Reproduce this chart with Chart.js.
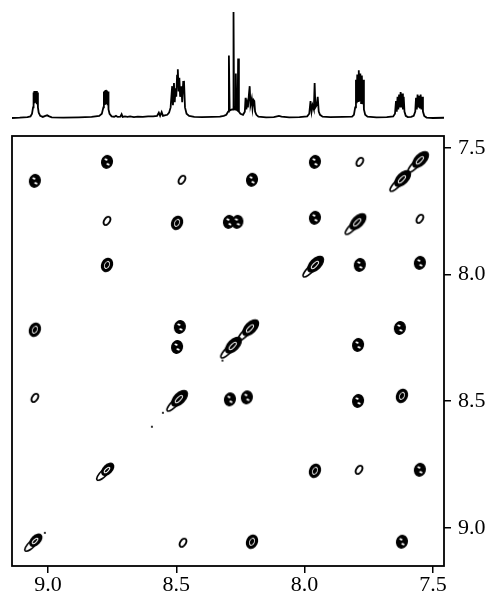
<!DOCTYPE html>
<html>
<head>
<meta charset="utf-8">
<script src="https://cdn.jsdelivr.net/npm/chart.js@4.4.1/dist/chart.umd.min.js"></script>
<style>
  body { margin: 0; background: #fff; }
  #wrap { position: relative; width: 494px; height: 593px; }
  canvas { position: absolute; left: 0; }
</style>
</head>
<body>
<div id="wrap">
  <canvas id="spec" width="494" height="125" style="top:0"></canvas>
  <canvas id="cosy" width="494" height="468" style="top:125px"></canvas>
</div>
<script>
// 1D proton trace on top (ppm, relative intensity)
const specPpm = [
  9.140, 9.110, 9.080, 9.068, 9.062, 9.058, 9.057, 9.055, 9.053, 9.051, 9.049, 9.047, 9.045, 9.043, 9.041, 9.039, 9.036, 9.030, 9.020, 9.010, 9.003, 8.995, 8.985,
  8.940, 8.880, 8.830, 8.800, 8.790, 8.784, 8.782, 8.780, 8.778, 8.776, 8.774, 8.772, 8.770, 8.768, 8.766, 8.764, 8.760, 8.752,
  8.742, 8.735, 8.728, 8.718, 8.713, 8.709, 8.700, 8.690, 8.680, 8.665, 8.650, 8.630, 8.610, 8.590, 8.575, 8.568, 8.563, 8.557, 8.552, 8.545,
  8.535, 8.528, 8.522, 8.516, 8.513, 8.509, 8.506, 8.503, 8.500, 8.497, 8.494, 8.491, 8.488, 8.485, 8.480, 8.477, 8.473, 8.470, 8.466, 8.460, 8.450,
  8.430, 8.400, 8.360, 8.330, 8.315, 8.305, 8.298, 8.295, 8.292, 8.283, 8.278, 8.277, 8.275, 8.270, 8.268, 8.266, 8.261, 8.259, 8.256, 8.250,
  8.240, 8.233, 8.230, 8.227, 8.224, 8.221, 8.217, 8.214, 8.211, 8.206, 8.203, 8.199, 8.196, 8.193, 8.188, 8.180,
  8.150, 8.120, 8.100, 8.090, 8.060, 8.020, 7.990, 7.982, 7.977, 7.973, 7.969, 7.964, 7.961, 7.958, 7.953, 7.949, 7.945, 7.940, 7.930,
  7.900, 7.850, 7.815, 7.808, 7.803, 7.800, 7.797, 7.795, 7.792, 7.789, 7.786, 7.783, 7.780, 7.777, 7.774, 7.772, 7.769, 7.764, 7.755,
  7.720, 7.680, 7.655, 7.648, 7.644, 7.641, 7.638, 7.635, 7.632, 7.629, 7.626, 7.623, 7.620, 7.617, 7.614, 7.611, 7.606, 7.598,
  7.585, 7.575, 7.569, 7.566, 7.563, 7.560, 7.557, 7.554, 7.551, 7.548, 7.545, 7.542, 7.539, 7.534, 7.525, 7.500, 7.457
];
const specInt = [
  0.000, 0.003, 0.008, 0.015, 0.04, 0.10, 0.24, 0.12, 0.255, 0.14, 0.25, 0.15, 0.255, 0.13, 0.24, 0.10, 0.05, 0.02, 0.01, 0.02, 0.025, 0.015, 0.006,
  0.004, 0.006, 0.010, 0.020, 0.04, 0.10, 0.25, 0.13, 0.26, 0.15, 0.265, 0.14, 0.26, 0.12, 0.25, 0.08, 0.04, 0.015,
  0.012, 0.02, 0.010, 0.012, 0.035, 0.010, 0.015, 0.010, 0.015, 0.008, 0.012, 0.010, 0.015, 0.015, 0.02, 0.05, 0.02, 0.055, 0.02, 0.025,
  0.03, 0.05, 0.10, 0.30, 0.12, 0.33, 0.15, 0.28, 0.20, 0.40, 0.46, 0.25, 0.38, 0.20, 0.30, 0.15, 0.34, 0.35, 0.10, 0.04, 0.02,
  0.010, 0.008, 0.010, 0.012, 0.02, 0.03, 0.06, 0.59, 0.07, 0.08, 0.08, 1.00, 0.09, 0.08, 0.42, 0.08, 0.07, 0.56, 0.06, 0.04,
  0.03, 0.06, 0.19, 0.08, 0.14, 0.10, 0.22, 0.30, 0.12, 0.18, 0.09, 0.17, 0.16, 0.06, 0.03, 0.012,
  0.006, 0.008, 0.02, 0.012, 0.006, 0.008, 0.015, 0.04, 0.16, 0.06, 0.12, 0.08, 0.33, 0.10, 0.12, 0.20, 0.06, 0.03, 0.012,
  0.008, 0.010, 0.012, 0.03, 0.10, 0.36, 0.14, 0.41, 0.16, 0.45, 0.16, 0.42, 0.14, 0.40, 0.13, 0.36, 0.08, 0.03, 0.012,
  0.006, 0.008, 0.015, 0.04, 0.16, 0.06, 0.20, 0.08, 0.22, 0.10, 0.245, 0.10, 0.23, 0.08, 0.20, 0.06, 0.02, 0.008,
  0.010, 0.02, 0.06, 0.19, 0.08, 0.22, 0.10, 0.21, 0.09, 0.22, 0.08, 0.20, 0.06, 0.02, 0.004, 0.000, 0.002
];

// 2D COSY peaks: F2 (x), F1 (y), contour level (0 dot, 1 weak, 2 medium, 3 strong)
const peakX = [
  8.770, 7.960, 7.785, 7.551,
  9.051, 8.478, 8.205, 7.621,
  8.770, 8.497, 8.295, 8.262, 7.960, 7.795, 7.551,
  8.770, 7.960, 7.785, 7.551,
  9.051, 8.486, 8.213, 7.629,
  8.497, 8.280, 7.792,
  9.051, 8.490, 8.291, 8.225, 7.792, 7.621,
  8.770, 7.960, 7.788, 7.551,
  9.050, 8.474, 8.205, 7.621,
  8.552, 8.595, 9.012, 8.320
];
const peakY = [
  7.555, 7.555, 7.555, 7.549,
  7.630, 7.626, 7.626, 7.624,
  7.788, 7.796, 7.792, 7.792, 7.776, 7.794, 7.780,
  7.962, 7.962, 7.962, 7.954,
  8.218, 8.207, 8.213, 8.211,
  8.286, 8.282, 8.278,
  8.487, 8.492, 8.493, 8.485, 8.499, 8.479,
  8.772, 8.775, 8.771, 8.771,
  9.052, 9.059, 9.055, 9.055,
  8.546, 8.601, 9.020, 8.340
];
const peakLevel = [
  3, 3, 1, 3,
  3, 1, 3, 3,
  1, 2, 3, 3, 3, 3, 1,
  2, 3, 3, 3,
  2, 3, 3, 3,
  3, 3, 3,
  1, 3, 3, 3, 3, 2,
  2, 2, 1, 3,
  2, 1, 2, 3,
  0, 0, 0, 0
];
const tickValues = [7.5, 8.0, 8.5, 9.0];

const X_MIN = 7.457, X_MAX = 9.140;
const Y_MIN = 7.453, Y_MAX = 9.151;

// contour-like marks drawn once per kind, then used as point styles
const imgCache = {};
function ellipse(g, cx, cy, rx, ry, rot) {
  g.beginPath();
  g.ellipse(cx, cy, rx, ry, rot || 0, 0, Math.PI * 2);
}
function peakImage(level, diag) {
  const key = level + (diag ? 'd' : 'c');
  if (imgCache[key]) return imgCache[key];
  const c = document.createElement('canvas');
  c.width = 36; c.height = 36;
  const g = c.getContext('2d');
  g.translate(18, 18);
  g.fillStyle = '#000';
  g.strokeStyle = '#000';
  if (level === 0) {
    ellipse(g, 0, 0, 1.1, 1.1); g.fill();
  } else if (diag) {
    g.rotate(-Math.PI / 4);
    const L = level === 3 ? 10.5 : 8;
    const W = level === 3 ? 6 : 5;
    g.lineWidth = 1.4;
    ellipse(g, -3, 0, L + 3, 3.2); g.stroke();
    ellipse(g, 1, 0, L, W); g.fill();
    g.strokeStyle = '#fff';
    g.lineWidth = 1;
    ellipse(g, 0, 0, L * 0.45, W * 0.3); g.stroke();
  } else if (level === 3) {
    ellipse(g, 0, 0, 6, 7, 0.25); g.fill();
    g.fillStyle = '#fff';
    ellipse(g, -1, -2.4, 1.7, 1, 0.3); g.fill();
    ellipse(g, 1, 2.4, 1.7, 1, 0.3); g.fill();
  } else if (level === 2) {
    g.lineWidth = 3.2;
    ellipse(g, 0, 0, 4.3, 5.8, 0.45); g.stroke();
    ellipse(g, 0, 0, 2, 3, 0.45); g.fill();
  } else {
    g.lineWidth = 1.9;
    ellipse(g, 0, 0, 2.8, 4.6, 0.6); g.stroke();
  }
  imgCache[key] = c;
  return c;
}

const frame = {
  id: 'frame',
  afterDraw(chart) {
    const { ctx, chartArea: a } = chart;
    ctx.save();
    ctx.strokeStyle = '#000';
    ctx.lineWidth = 1.8;
    ctx.strokeRect(a.left, a.top, a.right - a.left, a.bottom - a.top);
    ctx.restore();
  }
};

new Chart(document.getElementById('spec'), {
  type: 'line',
  data: {
    datasets: [{
      data: specPpm.map((p, i) => ({ x: p, y: specInt[i] })),
      borderColor: '#000',
      borderWidth: 1.8,
      pointRadius: 0,
      tension: 0
    }]
  },
  options: {
    responsive: false,
    animation: false,
    devicePixelRatio: 1,
    events: [],
    layout: { padding: { left: 12, right: 50, top: 0, bottom: 5 } },
    plugins: { legend: { display: false }, tooltip: { enabled: false } },
    scales: {
      x: { type: 'linear', min: X_MIN, max: X_MAX, reverse: true, display: false },
      y: { min: -0.019, max: 1.113, display: false }
    }
  }
});

const tickFont = { family: "'Liberation Serif', 'Times New Roman', serif", size: 22, lineHeight: 1 };
const axisGrid = { drawOnChartArea: false, drawTicks: true, tickLength: 7, color: '#000', lineWidth: 1.5 };
const setTicks = s => { s.ticks = tickValues.map(v => ({ value: v })); };

new Chart(document.getElementById('cosy'), {
  type: 'scatter',
  data: {
    datasets: [{
      data: peakX.map((x, i) => ({ x: x, y: peakY[i], level: peakLevel[i] })),
      pointStyle: ctx => {
        const r = ctx.raw;
        if (!r) return 'circle';
        return peakImage(r.level, r.level > 0 && Math.abs(r.x - r.y) < 0.012);
      },
      pointRadius: 6
    }]
  },
  options: {
    responsive: false,
    animation: false,
    devicePixelRatio: 1,
    events: [],
    layout: { padding: { left: 12, right: 0, top: 11, bottom: 0 } },
    plugins: { legend: { display: false }, tooltip: { enabled: false } },
    scales: {
      x: {
        type: 'linear', position: 'bottom', min: X_MIN, max: X_MAX, reverse: true,
        afterBuildTicks: setTicks,
        afterFit: s => { s.height = 27; s.paddingLeft = 0; s.paddingRight = 0; },
        ticks: { callback: v => v.toFixed(1), font: tickFont, color: '#000', padding: 1, maxRotation: 0, autoSkip: false },
        grid: axisGrid,
        border: { display: false }
      },
      y: {
        type: 'linear', position: 'right', min: Y_MIN, max: Y_MAX, reverse: true,
        afterBuildTicks: setTicks,
        afterFit: s => { s.width = 50; s.paddingTop = 0; s.paddingBottom = 0; },
        ticks: { callback: v => v.toFixed(1), font: tickFont, color: '#000', padding: 7, autoSkip: false },
        grid: axisGrid,
        border: { display: false }
      }
    }
  },
  plugins: [frame]
});
</script>
</body>
</html>
